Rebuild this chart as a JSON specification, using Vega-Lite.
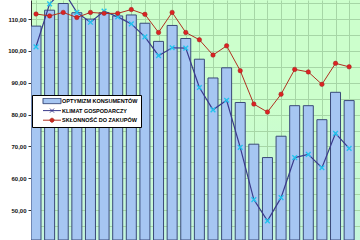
{
  "$schema": "https://vega.github.io/schema/vega-lite/v6.json",
  "width": 329,
  "height": 240,
  "autosize": "none",
  "padding": {"left": 31, "top": 0, "right": 0, "bottom": 0},
  "background": "white",
  "config": {
    "view": {"stroke": null, "fill": {"gradient": "linear", "x1": 0, "y1": 0, "x2": 0, "y2": 1, "stops": [{"offset": 0, "color": "#ccffcc"}, {"offset": 0.45, "color": "#ccffcc"}, {"offset": 1, "color": "#c4f5dc"}]}},
    "font": "Liberation Sans",
    "legend": {
      "title": null,
      "orient": "none",
      "legendX": 1,
      "legendY": 95,
      "fillColor": "white",
      "strokeColor": "black",
      "padding": 3,
      "symbolSize": 25,
      "symbolOffset": 14,
      "labelOffset": 7,
      "clipHeight": 6,
      "rowPadding": 2.6,
      "symbolStrokeWidth": 1,
      "labelFont": "Liberation Sans",
      "labelFontSize": 5.5,
      "labelFontWeight": "bold",
      "labelColor": "black",
      "labelLimit": 0
    }
  },
  "resolve": {"axis": {"y": "independent"}},
  "data": {
    "values": [
      {"i": 0, "opt": 107.8, "klimat": 101.3, "sklon": 111.6},
      {"i": 1, "opt": 112.8, "klimat": 114.8, "sklon": 111.0},
      {"i": 2, "opt": 114.9, "klimat": 119.0, "sklon": 112.1},
      {"i": 3, "opt": 112.0, "klimat": 112.1, "sklon": 110.5},
      {"i": 4, "opt": 110.0, "klimat": 109.0, "sklon": 112.1},
      {"i": 5, "opt": 112.0, "klimat": 112.5, "sklon": 111.8},
      {"i": 6, "opt": 111.0, "klimat": 110.7, "sklon": 111.8},
      {"i": 7, "opt": 111.3, "klimat": 108.5, "sklon": 113.0},
      {"i": 8, "opt": 108.7, "klimat": 104.4, "sklon": 111.5},
      {"i": 9, "opt": 103.0, "klimat": 98.5, "sklon": 105.8},
      {"i": 10, "opt": 108.0, "klimat": 101.0, "sklon": 112.1},
      {"i": 11, "opt": 103.9, "klimat": 100.9, "sklon": 105.8},
      {"i": 12, "opt": 97.4, "klimat": 88.5, "sklon": 103.5},
      {"i": 13, "opt": 91.5, "klimat": 81.5, "sklon": 98.7},
      {"i": 14, "opt": 94.7, "klimat": 84.5, "sklon": 101.6},
      {"i": 15, "opt": 83.8, "klimat": 69.7, "sklon": 93.8},
      {"i": 16, "opt": 70.7, "klimat": 53.3, "sklon": 83.3},
      {"i": 17, "opt": 66.5, "klimat": 46.6, "sklon": 80.8},
      {"i": 18, "opt": 73.2, "klimat": 53.9, "sklon": 86.4},
      {"i": 19, "opt": 82.8, "klimat": 66.5, "sklon": 94.2},
      {"i": 20, "opt": 82.8, "klimat": 67.5, "sklon": 93.4},
      {"i": 21, "opt": 78.4, "klimat": 63.3, "sklon": 89.5},
      {"i": 22, "opt": 87.0, "klimat": 74.1, "sklon": 96.1},
      {"i": 23, "opt": 84.4, "klimat": 69.4, "sklon": 95.0}
    ]
  },
  "encoding": {
    "x": {
      "field": "i",
      "type": "quantitative",
      "scale": {"domain": [0, 23.43], "nice": false, "zero": false},
      "axis": {
        "values": [0,1,2,3,4,5,6,7,8,9,10,11,12,13,14,15,16,17,18,19,20,21,22,23],
        "labels": false, "ticks": false, "domain": false, "title": null,
        "grid": true, "gridColor": "#a6d6a6", "gridWidth": 1
      }
    }
  },
  "layer": [
    {
      "mark": {"type": "bar", "size": 10, "clip": true, "strokeWidth": 1, "opacity": 1},
      "encoding": {
        "y": {
          "field": "opt",
          "type": "quantitative",
          "scale": {"domain": [40.6, 116], "nice": false, "zero": false},
          "axis": {
            "orient": "left",
            "values": [50, 60, 70, 80, 90, 100, 110],
            "format": ".2f",
            "labelExpr": "replace(datum.label, '.', ',')",
            "title": null,
            "grid": false,
            "domainColor": "#333333", "domainWidth": 1,
            "tickColor": "#333333", "tickSize": 3,
            "labelFont": "Liberation Sans", "labelFontSize": 6, "labelFontWeight": "bold",
            "labelColor": "#111111", "labelPadding": 2, "labelOverlap": false
          }
        },
        "y2": {"datum": 40.6},
        "fill": {
          "datum": "OPTYMIZM KONSUMENTÓW",
          "scale": {
            "domain": ["OPTYMIZM KONSUMENTÓW", "KLIMAT GOSPODARCZY", "SKŁONNOŚĆ DO ZAKUPÓW"],
            "range": ["#a6c6f2", "transparent", "#dd2222"]
          }
        },
        "stroke": {
          "datum": "OPTYMIZM KONSUMENTÓW",
          "scale": {
            "domain": ["OPTYMIZM KONSUMENTÓW", "KLIMAT GOSPODARCZY", "SKŁONNOŚĆ DO ZAKUPÓW"],
            "range": ["#3a4a78", "#3a3a8c", "#b03020"]
          }
        }
      }
    },
    {
      "mark": {"type": "line", "clip": true, "strokeWidth": 1.2},
      "encoding": {
        "y": {
          "field": "klimat", "type": "quantitative",
          "axis": {
            "orient": "right",
            "values": [45, 50, 55, 60, 65, 70, 75, 80, 85, 90, 95, 100, 105, 110, 115],
            "labels": false, "ticks": false, "domain": false, "title": null,
            "grid": true, "gridColor": "#a6d6a6", "gridWidth": 1
          }
        },
        "stroke": {"datum": "KLIMAT GOSPODARCZY"}
      }
    },
    {
      "mark": {"type": "point", "clip": true, "shape": "M-1,-1L1,1M-1,1L1,-1", "filled": false, "stroke": "#22c4ee", "strokeWidth": 1.4, "size": 22, "opacity": 1},
      "encoding": {
        "y": {"field": "klimat", "type": "quantitative", "axis": null}
      }
    },
    {
      "mark": {"type": "line", "clip": true, "strokeWidth": 1},
      "encoding": {
        "y": {"field": "sklon", "type": "quantitative", "axis": null},
        "stroke": {"datum": "SKŁONNOŚĆ DO ZAKUPÓW"}
      }
    },
    {
      "mark": {"type": "point", "clip": true, "shape": "circle", "filled": true, "fill": "#dd2222", "stroke": "#992222", "strokeWidth": 0.5, "size": 20, "opacity": 1},
      "encoding": {
        "y": {"field": "sklon", "type": "quantitative", "axis": null}
      }
    },
    {
      "transform": [{"filter": "false"}],
      "mark": {"type": "point", "clip": true},
      "encoding": {
        "y": {"field": "sklon", "type": "quantitative", "axis": null},
        "shape": {
          "datum": "OPTYMIZM KONSUMENTÓW",
          "scale": {
            "domain": ["OPTYMIZM KONSUMENTÓW", "KLIMAT GOSPODARCZY", "SKŁONNOŚĆ DO ZAKUPÓW"],
            "range": [
              "M-3.6,-1.1H3.6V1.1H-3.6Z",
              "M-3.6,0H3.6M-0.8,-0.8L0.8,0.8M-0.8,0.8L0.8,-0.8",
              "M-3.6,0H3.6M0.8,0A0.8,0.8 0 1 1 -0.8,0A0.8,0.8 0 1 1 0.8,0"
            ]
          }
        }
      }
    }
  ]
}
